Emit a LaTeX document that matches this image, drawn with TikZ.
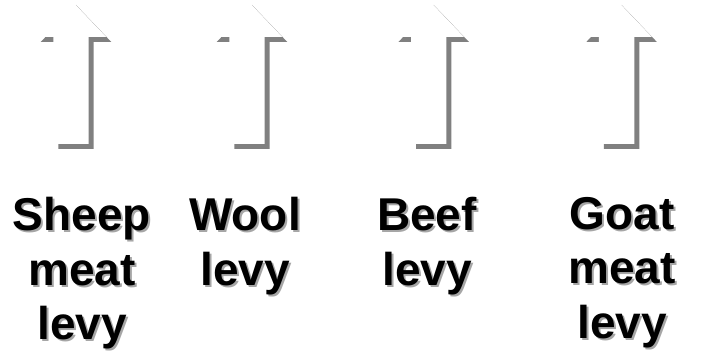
\documentclass[tikz,border=0pt]{standalone}
\usepackage{fontspec}
\setmainfont{Liberation Sans}
\begin{document}
\begin{tikzpicture}[x=1pt,y=-1pt,
  arrowshadow/.style={fill=black!50,draw=none},
  arrowbody/.style={fill=white,draw=none},
  labeltext/.style={inner sep=0pt,anchor=north,align=center,font=\bfseries\fontsize{46}{54.5}\selectfont},
  labelshadow/.style={labeltext,text=black!35}]
\useasboundingbox (0,0) rectangle (706,352);
\def\hh{37}\def\hw{35.3}\def\sw{17.7}\def\bt{144}
\foreach \cx [count=\i] in {71,247,428.7,616.6}{
  \fill[arrowshadow,shift={(5,5)}] (\cx,0) -- (\cx+\hw,\hh) -- (\cx+\sw,\hh) -- (\cx+\sw,\bt) -- (\cx-\sw,\bt) -- (\cx-\sw,\hh) -- (\cx-\hw,\hh) -- cycle;
  \fill[arrowbody] (\cx,0) -- (\cx+\hw,\hh) -- (\cx+\sw,\hh) -- (\cx+\sw,\bt) -- (\cx-\sw,\bt) -- (\cx-\sw,\hh) -- (\cx-\hw,\hh) -- cycle;
}
\node[labelshadow] (s1) at (84,199) {Sheep\\meat\\levy};
\node[labeltext] (t1) at (82,197) {Sheep\\meat\\levy};
\node[labelshadow] (s2) at (247,199) {Wool\\levy};
\node[labeltext] (t2) at (245,197) {Wool\\levy};
\node[labelshadow] (s3) at (429,199) {Beef\\levy};
\node[labeltext] (t3) at (427,197) {Beef\\levy};
\node[labelshadow] (s4) at (624,199) {Goat\\meat\\levy};
\node[labeltext] (t4) at (622,197) {Goat\\meat\\levy};
\end{tikzpicture}
\end{document}
